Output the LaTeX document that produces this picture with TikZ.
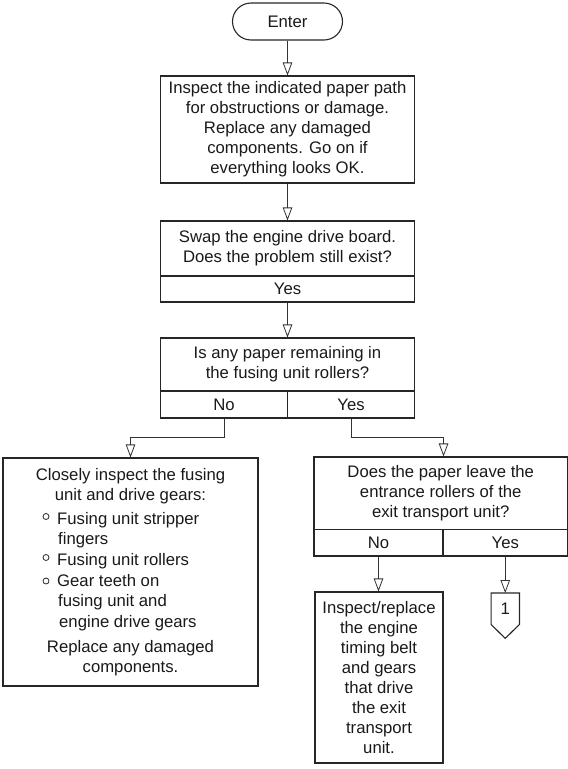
\documentclass[tikz,border=0pt]{standalone}
\usepackage{fontspec}
\setmainfont{Liberation Sans}
\usetikzlibrary{arrows.meta,calc}
\begin{document}
\begin{tikzpicture}[x=1pt,y=-1pt,
  every node/.style={font=\fontsize{16.7}{20}\selectfont, inner sep=0pt, text=black!90},
  box/.style={draw=black!85, line width=1.1pt, rectangle, align=center},
  term/.style={box, rounded corners=18.5pt, minimum width=110pt, minimum height=37pt},
  link/.style={draw=black!80, line width=0.8pt,
    -{Triangle[open, length=13pt, width=9.5pt, line width=0.8pt]}},
  bul/.style={draw=black!85, line width=0.8pt},
]
\useasboundingbox (0,0) rectangle (568,769);

% start terminal
\node[term] (enter) at (287.5,21.5) {Enter};

% main column
\node[box, minimum width=254pt, minimum height=107pt] (b1) at (287.5,129.5)
  {Inspect the indicated paper path\\for obstructions or damage.\\Replace any damaged\\components. Go on if\\everything looks OK.};

\node[box, minimum width=254pt, minimum height=55pt] (b2q) at (287.5,248.5)
  {Swap the engine drive board.\\Does the problem still exist?};
\node[box, minimum width=254pt, minimum height=26pt] (b2y) at (287.5,289) {Yes};

\node[box, minimum width=254pt, minimum height=53pt] (b3q) at (287.5,364.5)
  {Is any paper remaining in\\the fusing unit rollers?};
\node[box, minimum width=127pt, minimum height=27pt] (b3n) at (224,404.5) {No};
\node[box, minimum width=127pt, minimum height=27pt] (b3y) at (351,404.5) {Yes};

% left branch: inspection box
\node[box, minimum width=255pt, minimum height=228pt] (b4) at (130.5,572) {};
\node[anchor=base] (t4a) at (130.5,480.5) {Closely inspect the fusing};
\node[anchor=base] (t4b) at (130.5,500.5) {unit and drive gears:};
\node[anchor=base west] (t4c) at (57,524.5) {Fusing unit stripper};
\node[anchor=base west] (t4d) at (58,544.5) {fingers};
\node[anchor=base west] (t4e) at (57,565.5) {Fusing unit rollers};
\node[anchor=base west] (t4f) at (57,586.5) {Gear teeth on};
\node[anchor=base west] (t4g) at (58,606.5) {fusing unit and};
\node[anchor=base west] (t4h) at (59,627.5) {engine drive gears};
\node[anchor=base] (t4i) at (130.5,652.5) {Replace any damaged};
\node[anchor=base] (t4j) at (130.5,672.5) {components.};
\draw[bul] ($(t4c.base west)+(-11,-8)$) circle (3pt);
\draw[bul] ($(t4e.base west)+(-11,-8)$) circle (3pt);
\draw[bul] ($(t4f.base west)+(-11,-5.5)$) circle (3pt);

% right branch
\node[box, minimum width=253.5pt, minimum height=72.5pt] (b5q) at (440.75,493.25)
  {Does the paper leave the\\entrance rollers of the\\exit transport unit?};
\node[box, minimum width=129pt, minimum height=26.5pt] (b5n) at (378.5,542.75) {No};
\node[box, minimum width=124.5pt, minimum height=26.5pt] (b5y) at (505.25,542.75) {Yes};

\node[box, minimum width=128pt, minimum height=171pt] (b6) at (379,677.5)
  {Inspect/replace\\the engine\\timing belt\\and gears\\that drive\\the exit\\transport\\unit.};

% off-page connector
\node[minimum width=28pt, minimum height=31pt, anchor=north] (off) at (505.25,593) {1};
\draw[draw=black!85, line width=1.1pt, line join=miter]
  (off.north west) -- (off.north east) -- (off.south east)
  -- ($(off.south)+(0,14)$) -- (off.south west) -- cycle;

% connectors
\draw[link] (enter.south) -- (enter.south |- b1.north);
\draw[link] (b1.south) -- (b2q.north);
\draw[link] (b2y.south) -- (b3q.north);
\draw[link] (b3n.south) -- ++(0,19) -| (b4.north);
\draw[link] (b3y.south) -- ++(0,18.5) -| (b5n.north east |- b5q.north);
\draw[link] (b5n.south) -- (b5n.south |- b6.north);
\draw[link] (b5y.south) -- (off.north);
\end{tikzpicture}
\end{document}
